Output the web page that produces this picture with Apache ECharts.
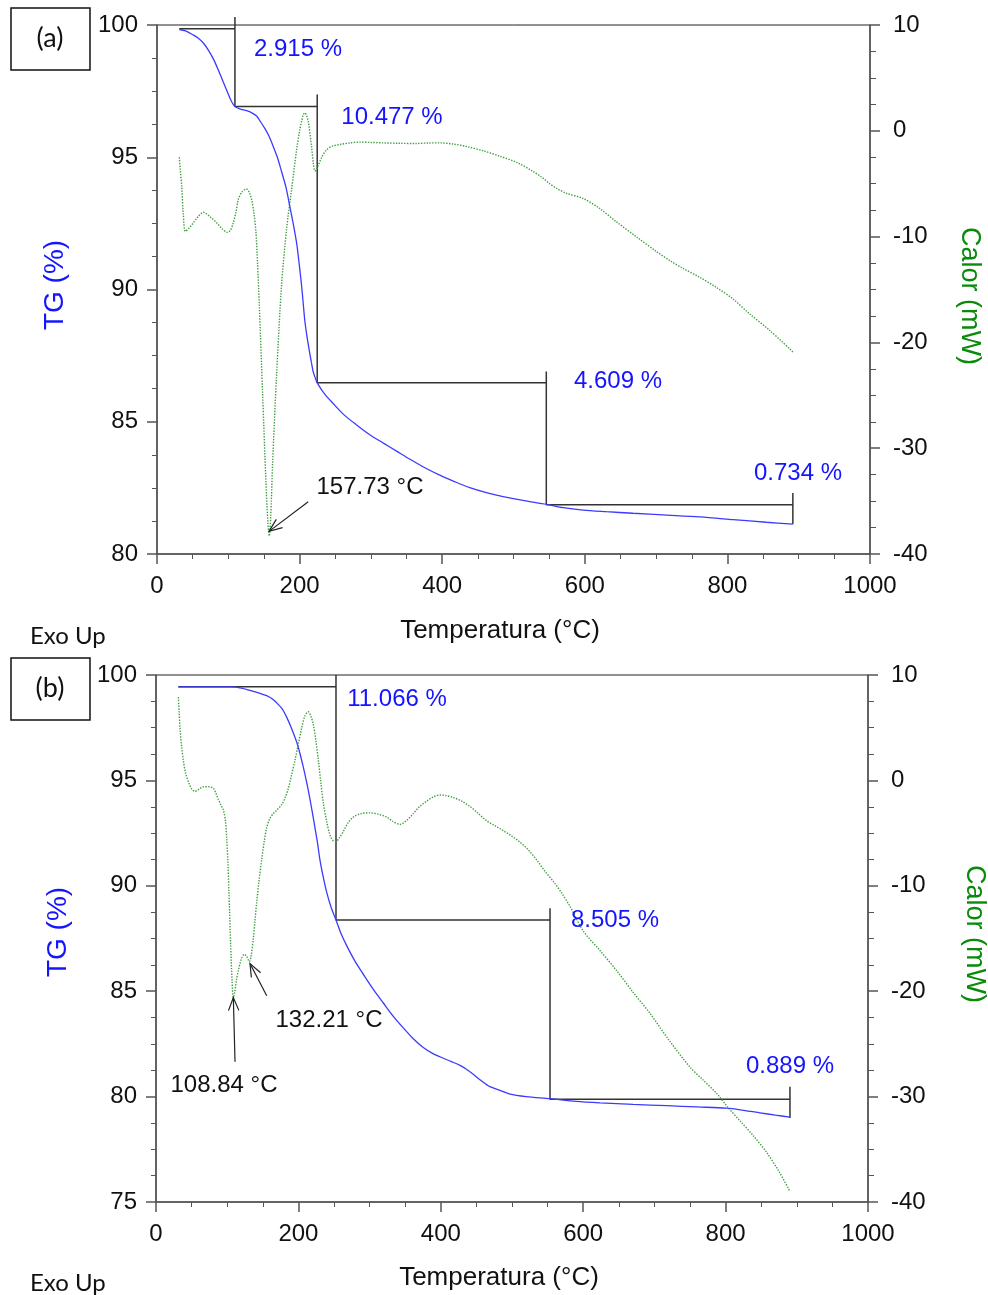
<!DOCTYPE html>
<html>
<head>
<meta charset="utf-8">
<script src="https://cdn.jsdelivr.net/npm/echarts@6/dist/echarts.min.js"></script>
<style>
html,body{margin:0;padding:0;background:#fff;}
#c{width:988px;height:1295px;}
</style>
</head>
<body>
<div id="c"></div>
<script>
// ---------- DATA ----------
// Panel (a): TG curve [T (°C), TG (%)]
const tgA = [[31.3,99.83],[40,99.78],[51,99.62],[58,99.5],[65,99.32],[72,99.05],[79,98.72],[86,98.3],[93,97.84],[99,97.45],[104.7,97.1],[109.3,96.92],[117,96.82],[125.7,96.76],[133,96.68],[139.7,96.56],[145,96.35],[151.4,96.08],[157,95.8],[163,95.41],[169,94.98],[174.7,94.46],[181,93.85],[186.4,93.12],[191,92.5],[195.8,91.76],[199.5,90.95],[202.8,90.14],[205,89.5],[207.4,88.8],[210.5,88.2],[213.5,87.71],[216.5,87.25],[219,86.9],[222,86.65],[224.7,86.47],[235,86.05],[247,85.69],[262,85.27],[279.9,84.88],[298,84.52],[317,84.2],[336,83.89],[355,83.58],[375,83.27],[396.6,82.98],[418,82.73],[438.7,82.51],[462,82.32],[485.4,82.17],[515,82.02],[546.2,81.88],[570,81.75],[597.5,81.66],[630,81.6],[667.6,81.54],[715,81.47],[761,81.4],[808,81.3],[854.5,81.2],[891.8,81.13]];
// Panel (a): DSC curve [T (°C), Calor (mW)]
const dscA = [[31.3,-2.5],[32.5,-3.6],[34.6,-5.2],[36.9,-7.9],[39.7,-9.5],[45,-9.2],[51,-8.7],[58,-8.1],[65,-7.7],[74,-8.1],[83.6,-8.7],[92,-9.3],[98.5,-9.6],[103,-9.4],[107,-8.7],[111,-7.6],[114,-6.5],[119,-5.8],[125.7,-5.5],[130,-5.9],[132.7,-6.5],[136,-7.8],[138.8,-9.6],[141,-12.5],[143.4,-16.3],[148.1,-24.8],[152.8,-33.2],[155.5,-37],[157.4,-38.3],[159.5,-36.5],[162.1,-31.5],[167.7,-23.1],[174.7,-14.6],[181.8,-9.25],[188.8,-5.5],[195.8,-1.8],[200,0],[202.8,0.9],[205,1.5],[207.4,1.7],[209.5,1.5],[212.1,0.9],[216.8,-1.5],[219.5,-3.2],[221.4,-3.8],[223.5,-3.7],[226,-3.3],[231,-2.5],[237.8,-1.8],[246,-1.45],[256.5,-1.3],[270,-1.15],[284.5,-1.07],[300,-1.1],[317,-1.14],[340,-1.18],[364,-1.2],[380,-1.15],[396.6,-1.14],[415,-1.25],[434,-1.48],[458,-1.9],[480.7,-2.4],[505,-3.0],[527.4,-3.84],[540,-4.4],[550.8,-5.0],[562,-5.5],[574,-5.9],[597.5,-6.4],[620,-7.3],[644.3,-8.6],[672,-10.0],[700.3,-11.4],[720,-12.3],[737.6,-13.0],[760,-13.8],[784.4,-14.8],[808,-15.9],[831.1,-17.3],[860,-18.9],[891.8,-20.9]];
// Panel (a): mass-loss step brackets [T, TG]
const stepsA = [[31.3,99.86],[109.3,99.86],[109.3,100.3],[109.3,96.92],[224.7,96.92],[224.7,97.37],[224.7,86.47],[546,86.47],[546,86.9],[546,81.86],[891.8,81.86],[891.8,82.31],[891.8,81.13]];
const labelsA = [["2.915 %",197.8,99.09],["10.477 %",329.6,96.52],["4.609 %",646.6,86.54],["0.734 %",899,83.06]];
const peakLabelsA = [["157.73 °C",298.7,82.53]];
// arrows on DSC axis: [T0, mW0, T1(tip), mW1(tip)]
const arrowsA = [[212.1,-35.07,157.1,-37.86]];

// Panel (b)
const tgB = [[31.4,99.44],[60,99.44],[90,99.44],[106.3,99.44],[120,99.38],[132,99.27],[145,99.14],[155.4,99.02],[163,98.87],[169.5,98.68],[177,98.4],[183.5,98.0],[190,97.5],[197.6,96.82],[202,96.3],[206.9,95.63],[212,94.85],[216.3,94.1],[220,93.4],[223.3,92.75],[227,92.0],[230.3,91.22],[235,90.4],[239.7,89.7],[246,88.97],[252.8,88.38],[260,87.72],[267.8,87.16],[279,86.45],[291.2,85.8],[305,85.1],[319.3,84.44],[333,83.82],[347.3,83.26],[361,82.76],[375.4,82.33],[389,82.04],[403.5,81.82],[415,81.66],[427,81.48],[436,81.3],[445.6,81.06],[457,80.75],[469,80.47],[483,80.3],[497,80.12],[520,80.0],[553.4,79.9],[590,79.77],[623.6,79.7],[670,79.63],[717.3,79.57],[760,79.51],[801.5,79.45],[825,79.35],[848.3,79.23],[870,79.12],[890.4,79.03]];
const dscB = [[31.4,7.9],[32.5,6.5],[33.7,5.0],[36,3.2],[38.4,1.9],[41.5,0.7],[45.4,-0.1],[50,-0.8],[54.8,-1.04],[60,-0.85],[66.5,-0.6],[74,-0.6],[80.5,-0.75],[84,-1.2],[87.5,-1.8],[91,-2.3],[94.5,-2.8],[97.5,-3.8],[99.3,-5.5],[101,-7.8],[102.5,-10.6],[104.9,-15.7],[106.8,-19.0],[108.6,-20.6],[110.5,-20.1],[113,-18.9],[115.6,-18.06],[120,-16.9],[124,-16.5],[127.5,-16.7],[131,-17.2],[133.5,-16.7],[136.7,-15.0],[139,-13.3],[141.4,-11.6],[144.5,-9.6],[148.4,-7.55],[152,-5.8],[155.4,-4.5],[160,-3.6],[164.8,-3.15],[170,-2.8],[176.5,-2.3],[181,-1.7],[185.8,-0.78],[190,0.4],[195.2,1.93],[200,3.5],[204.6,4.98],[209,6.1],[213.9,6.51],[217.5,6.1],[220.9,5.32],[224.5,3.8],[228,1.93],[231.5,-0.2],[235,-2.13],[240,-4.0],[244.4,-5.18],[248.5,-5.7],[252.8,-5.79],[258,-5.4],[263.1,-4.84],[270,-4.0],[277.1,-3.48],[288,-3.15],[300.6,-3.08],[312,-3.2],[324,-3.48],[333,-3.9],[342.7,-4.17],[352,-3.8],[361.4,-3.15],[370,-2.5],[380.2,-1.96],[390,-1.55],[398.9,-1.38],[408,-1.45],[417.6,-1.62],[430,-2.0],[441,-2.47],[452,-3.1],[464.5,-3.83],[476,-4.3],[487.8,-4.77],[500,-5.3],[511.2,-5.86],[523,-6.6],[534.7,-7.55],[546,-8.6],[558,-9.58],[570,-10.7],[581.5,-11.96],[600.2,-14.3],[623,-16.1],[647,-18.05],[670,-20.1],[693.8,-22.1],[720,-24.6],[750,-27.2],[768,-28.4],[787.5,-29.7],[803,-31.0],[820.2,-32.3],[840,-33.8],[857.7,-35.3],[875,-37.1],[890.4,-39.0]];
const stepsB = [[31.4,99.44],[252.8,99.44],[252.8,100],[252.8,88.38],[553.4,88.38],[553.4,88.94],[553.4,79.87],[890.4,79.87],[890.4,80.47],[890.4,78.98]];
const labelsB = [["11.066 %",338.5,98.86],["8.505 %",644.7,88.38],["0.889 %",890.4,81.45]];
const peakLabelsB = [["132.21 °C",243,83.63],["108.84 °C",95.5,80.55]];
const arrowsB = [[111,-26.7,108.6,-20.6],[155.5,-20.43,132,-17.38]];

// Axis tick ranges
const xTicks = {min:0, max:1000, interval:200};
const tgRangeA = {min:80, max:100, interval:5};
const tgRangeB = {min:75, max:100, interval:5};
const dscRange = {min:-40, max:10, interval:10};

// ---------- STYLE ----------
const FONT = '"Liberation Sans", Arial, sans-serif';
const AX = '#555';
const BLUE_LINE = '#3b3bff';
const BLUE_TXT = '#1414ff';
const GREEN_LINE = '#3f9f3f';
const GREEN_TXT = '#0a8a0a';

function xAxis(g){
  return {type:'value', gridIndex:g, min:xTicks.min, max:xTicks.max, interval:xTicks.interval,
    axisLine:{show:true,onZero:false,lineStyle:{color:AX,width:1.5}},
    axisTick:{show:true,length:10,lineStyle:{color:AX,width:1.5}},
    minorTick:{show:true,splitNumber:4,length:5,lineStyle:{color:AX,width:1}},
    splitLine:{show:false},
    axisLabel:{fontSize:24,color:'#111',fontFamily:FONT,margin:20,formatter:v=>String(v)}};
}
function yLeft(g,r){
  return {type:'value', gridIndex:g, position:'left', min:r.min, max:r.max, interval:r.interval,
    axisLine:{show:true,onZero:false,lineStyle:{color:AX,width:1.5}},
    axisTick:{show:true,length:10,lineStyle:{color:AX,width:1.5}},
    minorTick:{show:true,splitNumber:4,length:5,lineStyle:{color:AX,width:1}},
    splitLine:{show:false},
    axisLabel:{fontSize:24,color:'#111',fontFamily:FONT,margin:19,formatter:v=>String(v)}};
}
function yRight(g,r){
  return {type:'value', gridIndex:g, position:'right', min:r.min, max:r.max, interval:r.interval,
    axisLine:{show:true,onZero:false,lineStyle:{color:AX,width:1.5}},
    axisTick:{show:true,length:10,lineStyle:{color:AX,width:1.5}},
    minorTick:{show:true,splitNumber:4,length:6,lineStyle:{color:AX,width:1}},
    splitLine:{show:false},
    axisLabel:{fontSize:24,color:'#111',fontFamily:FONT,margin:23,formatter:v=>String(v)}};
}

function arrowSeries(xi,yi,data){
  return {type:'custom', xAxisIndex:xi, yAxisIndex:yi, clip:false, z:6, silent:true,
    data:data, encode:{x:[0,2],y:[1,3]},
    renderItem:function(params,api){
      const p0 = api.coord([api.value(0),api.value(1)]);
      const p1 = api.coord([api.value(2),api.value(3)]);
      const a = Math.atan2(p1[1]-p0[1], p1[0]-p0[0]);
      const L = 14, w = 0.38;
      const h1 = [p1[0]-L*Math.cos(a-w), p1[1]-L*Math.sin(a-w)];
      const h2 = [p1[0]-L*Math.cos(a+w), p1[1]-L*Math.sin(a+w)];
      const st = {stroke:'#222', lineWidth:1.2, fill:null};
      return {type:'group', children:[
        {type:'line', shape:{x1:p0[0],y1:p0[1],x2:p1[0],y2:p1[1]}, style:st},
        {type:'polyline', shape:{points:[h1,p1,h2]}, style:st}
      ]};
    }};
}
function labelSeries(xi,yi,arr,color){
  return {type:'custom', xAxisIndex:xi, yAxisIndex:yi, clip:false, z:7, silent:true,
    data:arr.map(d=>[d[1],d[2],d[0]]),
    dimensions:['x','y',{name:'t',type:'ordinal'}],
    encode:{x:0,y:1},
    renderItem:function(params,api){
      const p = api.coord([api.value(0),api.value(1)]);
      return {type:'text', x:p[0], y:p[1],
        style:{text:arr[params.dataIndex][0], font:'24px "Liberation Sans", Arial, sans-serif', fill:color, align:'center', verticalAlign:'middle'}};
    }};
}
function lineSeries(xi,yi,data,color,type,width,z,smooth){
  return {type:'line', xAxisIndex:xi, yAxisIndex:yi, data:data, showSymbol:false, symbol:'none',
    smooth:smooth, z:z, clip:false, silent:true, lineStyle:{color:color,width:width,type:type}};
}

const option = {
  animation:false,
  backgroundColor:'#fff',
  grid:[
    {left:157, top:25, width:713, height:529, show:true, borderColor:'#222', borderWidth:1},
    {left:156, top:675, width:712, height:527, show:true, borderColor:'#222', borderWidth:1}
  ],
  xAxis:[xAxis(0), xAxis(1)],
  yAxis:[yLeft(0,tgRangeA), yRight(0,dscRange), yLeft(1,tgRangeB), yRight(1,dscRange)],
  series:[
    lineSeries(0,0,stepsA,'#333','solid',1.5,2,false),
    lineSeries(0,1,dscA,GREEN_LINE,'dotted',1.4,3,0.3),
    lineSeries(0,0,tgA,BLUE_LINE,'solid',1.3,4,0.3),
    labelSeries(0,0,labelsA,BLUE_TXT),
    labelSeries(0,0,peakLabelsA,'#111'),
    arrowSeries(0,1,arrowsA),
    lineSeries(1,2,stepsB,'#333','solid',1.5,2,false),
    lineSeries(1,3,dscB,GREEN_LINE,'dotted',1.4,3,0.3),
    lineSeries(1,2,tgB,BLUE_LINE,'solid',1.3,4,0.3),
    labelSeries(1,2,labelsB,BLUE_TXT),
    labelSeries(1,2,peakLabelsB,'#111'),
    arrowSeries(1,3,arrowsB)
  ],
  graphic:[
    {type:'rect', shape:{x:11,y:8,width:79,height:62}, style:{fill:null,stroke:'#111',lineWidth:1.5}},
    {type:'text', x:50, y:38, style:{text:'(a)', font:'27px Lato, "Open Sans", sans-serif', fill:'#111', align:'center', verticalAlign:'middle'}},
    {type:'rect', shape:{x:11,y:658,width:79,height:62}, style:{fill:null,stroke:'#111',lineWidth:1.5}},
    {type:'text', x:50, y:688, style:{text:'(b)', font:'27px Lato, "Open Sans", sans-serif', fill:'#111', align:'center', verticalAlign:'middle'}},
    {type:'text', x:30, y:636, style:{text:'Exo Up', font:'24px Lato, "Open Sans", sans-serif', fill:'#111', align:'left', verticalAlign:'middle'}},
    {type:'text', x:30, y:1283, style:{text:'Exo Up', font:'24px Lato, "Open Sans", sans-serif', fill:'#111', align:'left', verticalAlign:'middle'}},
    {type:'text', x:500, y:631, style:{text:'Temperatura (°C)', font:'26px "Liberation Sans", Arial, sans-serif', fill:'#111', align:'center', verticalAlign:'middle'}},
    {type:'text', x:499, y:1278, style:{text:'Temperatura (°C)', font:'26px "Liberation Sans", Arial, sans-serif', fill:'#111', align:'center', verticalAlign:'middle'}},
    {type:'text', x:55, y:285, rotation:Math.PI/2, style:{text:'TG (%)', font:'28px "Liberation Sans", Arial, sans-serif', fill:BLUE_TXT, align:'center', verticalAlign:'middle'}},
    {type:'text', x:58, y:932, rotation:Math.PI/2, style:{text:'TG (%)', font:'28px "Liberation Sans", Arial, sans-serif', fill:BLUE_TXT, align:'center', verticalAlign:'middle'}},
    {type:'text', x:969, y:296, rotation:-Math.PI/2, style:{text:'Calor (mW)', font:'27px "Liberation Sans", Arial, sans-serif', fill:GREEN_TXT, align:'center', verticalAlign:'middle'}},
    {type:'text', x:974, y:934, rotation:-Math.PI/2, style:{text:'Calor (mW)', font:'27px "Liberation Sans", Arial, sans-serif', fill:GREEN_TXT, align:'center', verticalAlign:'middle'}}
  ]
};
const chart = echarts.init(document.getElementById('c'), null, {renderer:'canvas'});
chart.setOption(option);
</script>
</body>
</html>
